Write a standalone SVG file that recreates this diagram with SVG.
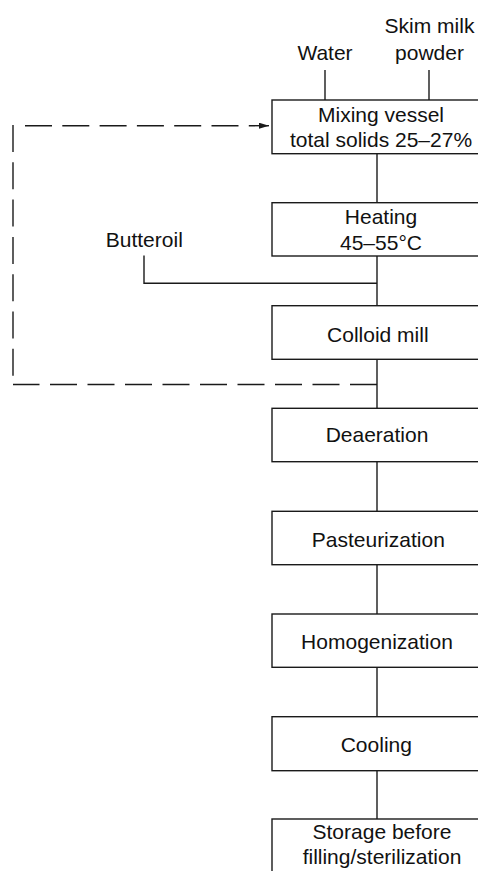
<svg xmlns="http://www.w3.org/2000/svg" width="478" height="871" viewBox="0 0 478 871">
  <style>
    .box { fill: #ffffff; stroke: #1a1a1a; stroke-width: 1.4; }
    .lbl { font-family: "Liberation Sans", Arial, Helvetica, sans-serif; font-size: 21px; fill: #111111; text-anchor: middle; }
    .flow { stroke: #1a1a1a; stroke-width: 1.4; fill: none; }
    .recycle { stroke: #1a1a1a; stroke-width: 1.4; fill: none; stroke-dasharray: 27 10.3; }
  </style>
  <defs>
    <marker id="arrow" viewBox="0 0 10 6" refX="10" refY="3" markerWidth="10" markerHeight="6" markerUnits="userSpaceOnUse" orient="auto">
      <path d="M0,0 L10,3 L0,6 Z" fill="#1a1a1a"/>
    </marker>
  </defs>
  <rect width="478" height="871" fill="#ffffff"/>

  <!-- connectors -->
  <g id="connectors">
    <!-- raw material feeds -->
    <line class="flow" x1="325" y1="70" x2="325" y2="100"/>
    <line class="flow" x1="429" y1="70" x2="429" y2="100"/>
    <!-- main process line -->
    <line class="flow" x1="377" y1="153.7" x2="377" y2="202.7"/>
    <line class="flow" x1="377" y1="256" x2="377" y2="305.7"/>
    <line class="flow" x1="377" y1="359.3" x2="377" y2="408.3"/>
    <line class="flow" x1="377" y1="461.7" x2="377" y2="511.3"/>
    <line class="flow" x1="377" y1="564.7" x2="377" y2="614"/>
    <line class="flow" x1="377" y1="667.3" x2="377" y2="716.7"/>
    <line class="flow" x1="377" y1="770.7" x2="377" y2="819"/>
    <!-- butteroil feed -->
    <polyline class="flow" points="144,255.5 144,283.3 377,283.3"/>
    <!-- recirculation loop -->
    <line class="recycle" x1="377" y1="384.5" x2="13" y2="384.5" style="stroke-dasharray:27 10.5"/>
    <line class="recycle" x1="13" y1="125" x2="13" y2="384.5"/>
    <line class="recycle" x1="25" y1="125.7" x2="269" y2="125.7" marker-end="url(#arrow)"/>
  </g>

  <!-- input labels -->
  <g id="water">
    <text class="lbl" x="325" y="60">Water</text>
  </g>
  <g id="skim-milk-powder">
    <text class="lbl" x="429.5" y="33.3">Skim milk</text>
    <text class="lbl" x="429.5" y="60">powder</text>
  </g>
  <g id="butteroil">
    <text class="lbl" x="144.3" y="246.7">Butteroil</text>
  </g>

  <!-- process steps -->
  <g id="mixing-vessel">
    <rect class="box" x="272" y="100" width="220" height="53.7"/>
    <text class="lbl" x="381" y="122">Mixing vessel</text>
    <text class="lbl" x="381" y="147">total solids 25–27%</text>
  </g>
  <g id="heating">
    <rect class="box" x="272" y="202.7" width="220" height="53.3"/>
    <text class="lbl" x="381" y="224.3">Heating</text>
    <text class="lbl" x="381" y="250">45–55°C</text>
  </g>
  <g id="colloid-mill">
    <rect class="box" x="272" y="305.7" width="220" height="53.6"/>
    <text class="lbl" x="377.8" y="341.7">Colloid mill</text>
  </g>
  <g id="deaeration">
    <rect class="box" x="272" y="408.3" width="220" height="53.4"/>
    <text class="lbl" x="377" y="442">Deaeration</text>
  </g>
  <g id="pasteurization">
    <rect class="box" x="272" y="511.3" width="220" height="53.4"/>
    <text class="lbl" x="378.3" y="546.5">Pasteurization</text>
  </g>
  <g id="homogenization">
    <rect class="box" x="272" y="614" width="220" height="53.3"/>
    <text class="lbl" x="377" y="649.3">Homogenization</text>
  </g>
  <g id="cooling">
    <rect class="box" x="272" y="716.7" width="220" height="54"/>
    <text class="lbl" x="376.3" y="752">Cooling</text>
  </g>
  <g id="storage">
    <rect class="box" x="272" y="819" width="220" height="80"/>
    <text class="lbl" x="382" y="839.3">Storage before</text>
    <text class="lbl" x="382" y="864">filling/sterilization</text>
  </g>
</svg>
